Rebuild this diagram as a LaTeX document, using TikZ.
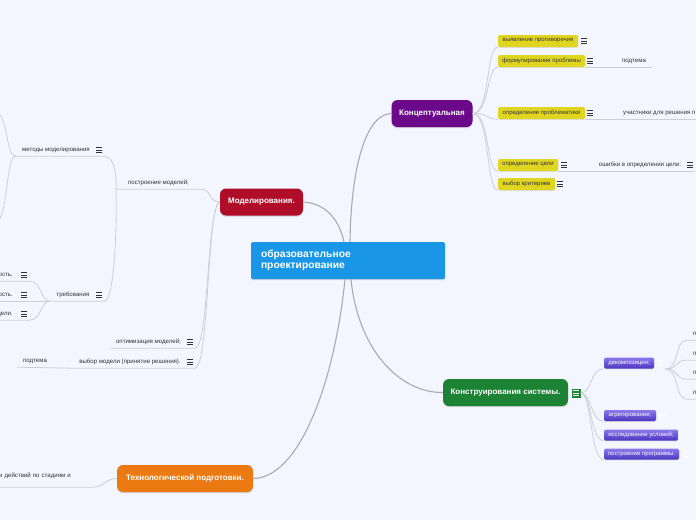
\documentclass[tikz,border=0pt]{standalone}
\usepackage{fontspec}
\setmainfont{Liberation Sans}
\usetikzlibrary{shadows}

\definecolor{bgcol}{RGB}{243,246,254}
\definecolor{rootblue}{RGB}{26,150,230}
\definecolor{kpurple}{RGB}{106,10,138}
\definecolor{mred}{RGB}{176,14,40}
\definecolor{kgreen}{RGB}{28,130,52}
\definecolor{torange}{RGB}{236,122,18}
\definecolor{tyellow}{RGB}{224,214,34}
\definecolor{tviolet}{RGB}{90,62,226}
\definecolor{linegray}{RGB}{204,207,214}
\definecolor{maingray}{RGB}{170,170,176}
\definecolor{txtgray}{RGB}{50,50,56}

\begin{document}
\begin{tikzpicture}[
        x=1pt, y=-1pt,
        main/.style={rounded corners=6pt, text=white, font=\fontsize{8}{9.5}\selectfont\bfseries,
            minimum height=27pt, inner xsep=6pt,
            drop shadow={opacity=0.3, shadow xshift=0pt, shadow yshift=-1.2pt}},
        ytag/.style={fill=tyellow, rounded corners=1.5pt, text=txtgray, font=\fontsize{6}{7}\selectfont,
            minimum height=12pt, inner xsep=3pt, inner ysep=0pt,
            drop shadow={opacity=0.2, shadow xshift=0.4pt, shadow yshift=-0.8pt}},
        vtag/.style={top color=tviolet!70!white, bottom color=tviolet!85!black, rounded corners=1.5pt,
            text=white, font=\fontsize{6}{7}\selectfont,
            minimum height=11pt, inner xsep=3pt, inner ysep=0pt,
            drop shadow={opacity=0.25, shadow xshift=0.4pt, shadow yshift=-0.8pt}},
        leaf/.style={text=txtgray, font=\fontsize{6.1}{7}\selectfont, minimum height=12pt,
            inner xsep=6pt, inner ysep=0pt},
        icon/.style={minimum width=10pt, minimum height=12pt, inner sep=0pt,
            path picture={\foreach \d in {-2.3,0,2.3}
                \draw[line width=0.75pt, #1] ([xshift=-2.6pt, yshift=\d pt]path picture bounding box.center)
                    -- ([xshift=2.6pt, yshift=\d pt]path picture bounding box.center);}},
        icon/.default=txtgray,
        branch/.style={draw=maingray, line width=1.1pt},
        twig/.style={draw=linegray, line width=0.8pt}
    ]

    % Page
    \fill[bgcol] (0,0) rectangle (696,520);
    \useasboundingbox (0,0) rectangle (696,520);

    % Central topic
    \node[main, fill=rootblue, rounded corners=2pt, font=\fontsize{10.3}{11.5}\selectfont\bfseries,
        minimum height=37pt, text width=174pt, inner xsep=10pt, align=left,
        drop shadow={opacity=0}] (root) at (348,260.5) {образовательное\\проектирование};

    % Main topics
    \node[main, fill=kpurple, minimum width=81pt] (konc) at (432,113.5) {Концептуальная};
    \node[main, fill=mred, minimum width=83pt] (model) at (261.5,202) {Моделирования.};
    \node[main, fill=kgreen, minimum width=125pt] (konstr) at (505.5,392.5) {Конструирования системы.};
    \node[main, fill=torange, minimum width=136pt] (tech) at (185,478.5) {Технологической подготовки.};
    \node[icon=white, fill=kgreen, minimum width=9pt, minimum height=9pt] (kicon) at (576,393) {};

    \draw[branch] ([xshift=2pt]root.north) .. controls (351,170) and (365,114) .. (konc.west);
    \draw[branch] ([xshift=-4pt]root.north) .. controls (338,215) and (322,203) .. (model.east);
    \draw[branch] ([xshift=3pt]root.south) .. controls (358,350) and (400,393) .. (konstr.west);
    \draw[branch] ([xshift=-3pt]root.south) .. controls (335,380) and (300,478) .. (tech.east);

    % Концептуальная
    \node[ytag, minimum width=80pt] (vyav) at (538,41) {выявление противоречия};
    \node[ytag, minimum width=87pt] (form) at (541.5,61) {формулирование проблемы};
    \node[ytag, minimum width=87pt] (opredp) at (541.5,113) {определение проблематики};
    \node[ytag, minimum width=60pt] (opredc) at (528,165) {определение цели};
    \node[ytag, minimum width=57pt] (vybor) at (526.5,184) {выбор критериев};
    \node[icon] (vicon) at (584,41) {};
    \node[icon] (ficon) at (590,61) {};
    \node[icon] (picon) at (590,113) {};
    \node[icon] (cicon) at (564,165) {};
    \node[icon] (kricon) at (560,184) {};

    \foreach \t in {vyav,form,opredp,opredc,vybor}
        \draw[twig] (konc.east) .. controls (490,113.5) and (486,0 |- \t.south west) .. (\t.south west);

    \node[leaf] (podt1) at (634,61) {подтема};
    \node[leaf, anchor=west] (uchast) at (617,113) {участники для решения п};
    \node[leaf] (oshib) at (640,165) {ошибки в определении цели:};
    \node[icon] (oicon) at (690,165) {};
    \draw[twig] (form.south east) -- (podt1.south east);
    \draw[twig] (opredp.south east) -- (uchast.south east);
    \draw[twig] (opredc.south east) -- (oicon.south east);

    % Моделирования
    \node[leaf, minimum width=85pt] (postr) at (158.5,183) {построение моделей;};
    \node[leaf] (optim) at (148.5,342) {оптимизация моделей;};
    \node[leaf] (vybmod) at (130,362) {выбор модели (принятие решения).};
    \node[leaf] (podt2) at (35,361) {подтема};
    \node[icon] (iopt) at (190,342) {};
    \node[icon] (ivyb) at (190,362) {};

    \draw[twig] (model.west) .. controls (208,202) and (212,189) .. (postr.south east) -- (postr.south west);
    \draw[twig] (model.west) .. controls (207,204) and (209,348) .. (iopt.south east) -- (optim.south west);
    \draw[twig] (model.west) .. controls (207,204) and (209,368) .. (ivyb.south east) -- (vybmod.south west)
        -- (podt2.south west);

    \node[leaf] (metody) at (56,150) {методы моделирования};
    \node[leaf] (treb) at (73,295) {требования};
    \node[icon] (imet) at (99,150) {};
    \node[icon] (itreb) at (99,295) {};
    \draw[twig] (postr.south west) .. controls (117,189) and (117,156) .. (imet.south east) -- (metody.south west);
    \draw[twig] (postr.south west) .. controls (117,189) and (117,301) .. (itreb.south east) -- (treb.south west);

    \coordinate (mup) at (-4,112);
    \coordinate (mdown) at (-4,222);
    \draw[twig] (metody.south west) .. controls (5,156) and (9,116) .. (mup);
    \draw[twig] (metody.south west) .. controls (5,156) and (9,218) .. (mdown);

    \node[leaf, anchor=east] (tr1) at (19,275) {ость,};
    \node[leaf, anchor=east] (tr2) at (19,295) {ость.};
    \node[leaf, anchor=east] (tr3) at (19,314) {дели.};
    \node[icon] (itr1) at (24,275) {};
    \node[icon] (itr2) at (24,295) {};
    \node[icon] (itr3) at (24,314) {};
    \draw[twig] (treb.south west) .. controls (40,301) and (42,281) .. (itr1.south east) -- (tr1.south west);
    \draw[twig] (treb.south west) -- (itr2.south east) -- (tr2.south west);
    \draw[twig] (treb.south west) .. controls (40,301) and (42,320) .. (itr3.south east) -- (tr3.south west);

    % Конструирования системы
    \node[vtag, minimum width=50pt] (dekomp) at (629,363) {декомпозиция;};
    \node[vtag, minimum width=52pt] (agreg) at (630,415.5) {агрегирование;};
    \node[vtag, minimum width=74pt] (issled) at (641,435) {исследование условий;};
    \node[vtag, minimum width=75pt] (postrp) at (641.5,454) {построение программы.};
    \node[icon=white] (dicon) at (660,363) {};
    \node[icon=white] (aicon) at (662,415.5) {};
    \node[icon=white] (ppicon) at (686,454) {};

    \foreach \t in {dekomp,agreg,issled,postrp}
        \draw[twig] (kicon.east) .. controls (592,393) and (590,0 |- \t.south west) .. (\t.south west);

    \foreach \n/\y in {1/334,2/354,3/373,4/393} {
        \node[leaf, anchor=west] (dp\n) at (687,\y) {п};
        \draw[twig] (dicon.south east) .. controls (680,369) and (674,\y+6) .. (dp\n.south west)
            -- (dp\n.south east);
    }

    % Технологической подготовки
    \node[leaf, anchor=west, text width=88pt, align=left, minimum height=22pt] (tdeist) at (-7,476)
        {и действий по стадиям и};
    \draw[twig] (tech.west) .. controls (104,479) and (104,487) .. (tdeist.south east) -- (tdeist.south west);

\end{tikzpicture}
\end{document}
